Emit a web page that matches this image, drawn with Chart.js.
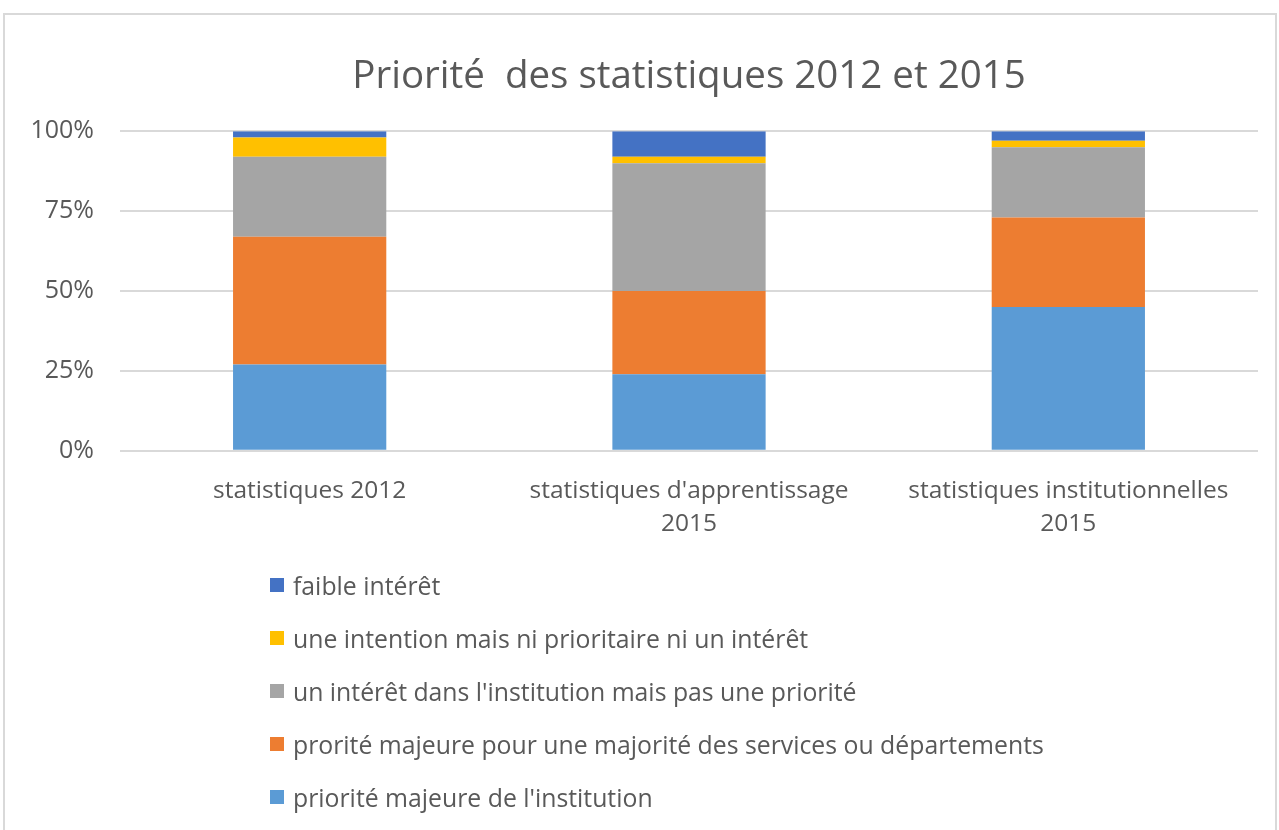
<!DOCTYPE html>
<html>
<head>
<meta charset="utf-8">
<script src="https://cdn.jsdelivr.net/npm/chart.js"></script>
<style>
  body { margin: 0; background: #fff; font-family: 'Open Sans', sans-serif; }
  #frame { position: absolute; left: 3px; top: 13px; width: 1270px; height: 830px; border: 2px solid #d9d9d9; border-bottom: none; }
  #wrap { position: absolute; left: 1px; top: 0px; width: 1270px; height: 552px; }
  #legend { position: absolute; left: 265px; top: 543px; color: #595959; font-size: 24.8px; }
  .item { height: 53px; display: flex; align-items: center; }
  .box { width: 14px; height: 14px; margin-right: 9px; }
</style>
</head>
<body>
<div id="frame">
  <div id="wrap"><canvas id="chart"></canvas></div>
  <div id="legend"></div>
</div>
<script>
const chartTitle = 'Priorité  des statistiques 2012 et 2015';
const categories = [
    ['statistiques 2012'],
    ["statistiques d'apprentissage", '2015'],
    ['statistiques institutionnelles', '2015']
];
const seriesNames = [
    "priorité majeure de l'institution",
    'prorité majeure pour une majorité des services ou départements',
    "un intérêt dans l'institution mais pas une priorité",
    'une intention mais ni prioritaire ni un intérêt',
    'faible intérêt'
];
const prioriteMajeure = [27, 24, 45];
const prioriteServices = [40, 26, 28];
const interetInstitution = [25, 40, 22];
const intention = [6, 2, 2];
const faibleInteret = [2, 8, 3];
const seriesColors = ['#5B9BD5', '#ED7D31', '#A5A5A5', '#FFC000', '#4472C4'];
const yTicks = [0, 25, 50, 75, 100];

const seriesValues = [prioriteMajeure, prioriteServices, interetInstitution, intention, faibleInteret];
const textColor = '#595959';

const ctx = document.getElementById('chart').getContext('2d');
const chart = new Chart(ctx, {
    type: 'bar',
    data: {
        labels: categories,
        datasets: seriesNames.map((name, i) => ({
            label: name,
            data: seriesValues[i],
            backgroundColor: seriesColors[i],
            borderWidth: 0,
            barPercentage: 0.404,
            categoryPercentage: 1
        }))
    },
    options: {
        responsive: true,
        maintainAspectRatio: false,
        animation: false,
        layout: { padding: { left: 0, right: 18, top: 0, bottom: 10 } },
        plugins: {
            legend: { display: false },
            tooltip: { enabled: false },
            title: {
                display: true,
                fullSize: false, // centre over the plot area like the original
                text: chartTitle,
                color: textColor,
                font: { family: 'Open Sans', size: 38.5, weight: 'normal' },
                padding: { top: 39, bottom: 31 }
            }
        },
        scales: {
            x: {
                stacked: true,
                grid: { display: false },
                border: { display: false },
                ticks: {
                    color: textColor,
                    font: { family: 'Open Sans', size: 24.5, lineHeight: 1.35 },
                    padding: 16,
                    maxRotation: 0,
                    autoSkip: false
                }
            },
            y: {
                stacked: true,
                min: 0,
                max: 100,
                afterBuildTicks: function(scale) {
                    scale.ticks = yTicks.map(v => ({ value: v }));
                },
                afterFit: function(scale) {
                    scale.width = 114;
                },
                grid: { color: '#d9d9d9', lineWidth: 2, drawTicks: false },
                border: { display: false },
                ticks: {
                    color: textColor,
                    font: { family: 'Open Sans', size: 25 },
                    padding: 26,
                    callback: v => v + '%'
                }
            }
        }
    }
});

// legend, top to bottom in reverse series order
const legendDiv = document.getElementById('legend');
for (let i = seriesNames.length - 1; i >= 0; i--) {
    const item = document.createElement('div');
    item.className = 'item';
    item.innerHTML = '<div class="box" style="background:' + seriesColors[i] + '"></div><span>' + seriesNames[i] + '</span>';
    legendDiv.appendChild(item);
}
</script>
</body>
</html>
